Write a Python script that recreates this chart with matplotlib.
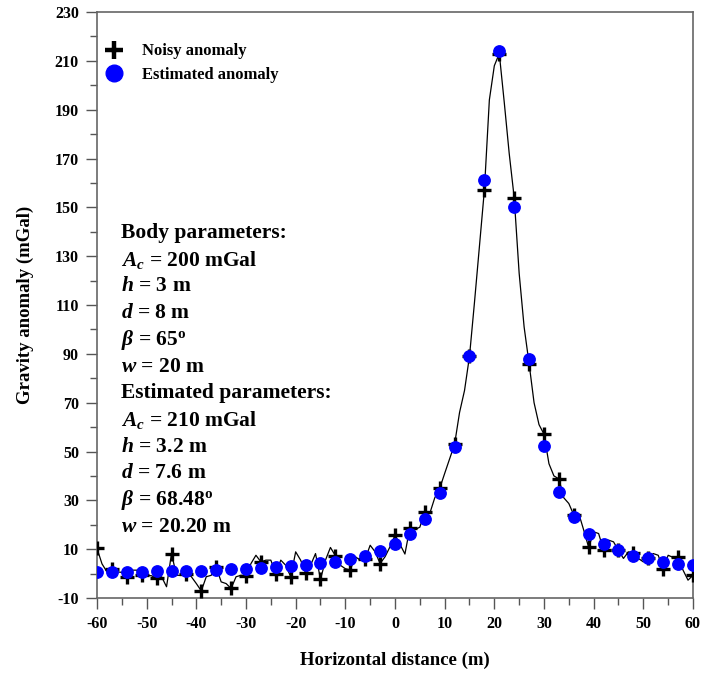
import numpy as np
import matplotlib
matplotlib.use("Agg")
import matplotlib.pyplot as plt
from matplotlib.ticker import MultipleLocator
from matplotlib.lines import Line2D

plt.rcParams['font.family'] = ['Liberation Serif', 'DejaVu Serif']
plt.rcParams['font.weight'] = 'bold'
plt.rcParams['axes.unicode_minus'] = False
plt.rcParams['mathtext.fontset'] = 'custom'
plt.rcParams['mathtext.rm'] = 'Liberation Serif:bold'
plt.rcParams['mathtext.it'] = 'Liberation Serif:italic:bold'
plt.rcParams['mathtext.bf'] = 'Liberation Serif:bold'

# ---------------- data ----------------
x_line = np.arange(-60, 61, 1)        # noisy profile, 1 m sampling
noisy_line = [10.3, 4.0, 0.7, 2.0, 0.7, 0.5, -1.3, 1.4, 1.4, -0.7,
              -0.7, -0.9, -2.0, -1.3, -5.4, 8.2, -0.7, -0.7, 0.0, -1.3,
              -4.1, -7.1, -1.3, -0.7, 2.7, -3.4, -4.1, -6.1, -1.3, -0.7,
              -1.0, 4.1, 7.5, 4.8, 5.5, 5.5, 0.0, 5.5, 3.4, -1.3,
              8.9, 5.5, 0.3, 3.4, 8.2, -2.4, 5.5, 10.7, 7.3, 3.4,
              2.0, 1.5, 6.9, 5.5, 6.0, 11.6, 8.9, 4.1, 6.9, 11.0,
              15.7, 12.0, 8.0, 18.8, 18.0, 19.0, 25.2, 24.6, 31.0, 34.9,
              41.0, 47.0, 53.0, 66.0, 75.0, 89.0, 111.0, 134.0, 157.1, 194.0,
              208.0, 213.0, 193.0, 172.0, 154.0, 123.0, 101.0, 86.0, 70.0, 61.0,
              57.1, 45.0, 40.0, 38.8, 31.0, 28.7, 24.0, 24.6, 17.8, 10.7,
              17.1, 16.4, 9.6, 13.7, 13.0, 9.5, 6.2, 8.9, 8.5, 6.2,
              4.8, 6.5, 8.2, 7.5, 1.8, 7.5, 6.6, 6.6, 1.4, -2.7,
              -0.7]

x_pts = np.arange(-60, 61, 3)         # marker stations, 3 m spacing
noisy_pts = [10.3, 2.0, -1.3, -0.7, -2.0, 8.2, 0.0, -7.1, 2.7, -6.1,
             -1.0, 4.8, 0.0, -1.3, 0.3, -2.4, 7.3, 1.5, 6.0, 4.1,
             15.7, 18.8, 25.2, 34.9, 53.0, 89.0, 157.1, 213.0, 154.0, 86.0,
             57.1, 38.8, 24.0, 10.7, 9.6, 9.5, 8.5, 6.5, 1.8, 6.6,
             -0.7]
estimated_pts = [0.5, 0.6, 0.7, 0.8, 0.9, 1.0, 1.1, 1.2, 1.5, 1.7,
                 1.9, 2.2, 2.5, 2.9, 3.4, 4.2, 4.9, 5.9, 7.3, 9.3,
                 12.0, 16.1, 22.4, 32.8, 51.8, 89.2, 161.0, 214.0, 150.3, 87.7,
                 52.3, 33.5, 23.0, 16.4, 12.3, 9.6, 7.4, 6.2, 4.8, 4.1,
                 3.4]

param_lines = ["Body parameters:",
               r"$A_c$ = 200 mGal",
               r"$h$ = 3 m",
               r"$d$ = 8 m",
               r"$\beta$ = 65$^{\mathrm{o}}$",
               r"$w$ = 20 m",
               "Estimated parameters:",
               r"$A_c$ = 210 mGal",
               r"$h$ = 3.2 m",
               r"$d$ = 7.6 m",
               r"$\beta$ = 68.48$^{\mathrm{o}}$",
               r"$w$ = 20.20 m"]

# ---------------- plot ----------------
fig = plt.figure(figsize=(7.17, 6.76), dpi=100)
ax = fig.add_axes([0.1353, 0.1154, 0.8312, 0.8668])

ax.plot(x_line, noisy_line, color="black", linewidth=0.9, zorder=2)
ax.plot(x_pts, noisy_pts, linestyle="none", marker="+", color="black",
        markersize=10, markeredgewidth=2.4, zorder=3)
ax.plot(x_pts, estimated_pts, linestyle="none", marker="o", color="#0000ff",
        markeredgecolor="#0000ff", markersize=8.2, zorder=4)

ax.set_xlim(-60, 60)
ax.set_ylim(-10, 230)
ax.xaxis.set_major_locator(MultipleLocator(10))
ax.xaxis.set_minor_locator(MultipleLocator(5))
ax.set_yticks(np.arange(-10, 231, 20))
ax.yaxis.set_minor_locator(MultipleLocator(10))

ax.tick_params(which="both", direction="out", top=False, right=False,
               labelsize=11.5, color="#555555", width=1.0)
ax.tick_params(which="major", length=8, pad=5)
ax.tick_params(which="minor", length=5)
for lab in ax.get_xticklabels() + ax.get_yticklabels():
    lab.set_fontweight("bold")
for sp in ax.spines.values():
    sp.set_color("#666666")
    sp.set_linewidth(1.2)

ax.set_xlabel("Horizontal distance (m)", fontsize=13.5, fontweight="bold", labelpad=14)
ax.set_ylabel("Gravity anomaly (mGal)", fontsize=13.5, fontweight="bold", labelpad=15)

handles = [Line2D([], [], linestyle="none", marker="+", color="black",
                  markersize=13, markeredgewidth=3.2),
           Line2D([], [], linestyle="none", marker="o", color="#0000ff",
                  markersize=12)]
ax.legend(handles, ["Noisy anomaly", "Estimated anomaly"], loc="upper left",
          bbox_to_anchor=(-0.016, 0.972), frameon=False, handlelength=1.4,
          handletextpad=1.0, labelspacing=0.45, prop={"weight": "bold", "size": 12})

y0 = 233
for i, s in enumerate(param_lines):
    fig.text(121 / 717, 1 - (y0 + 26.7 * i) / 676, s, fontsize=15.5,
             fontweight="bold", ha="left", va="center")

fig.savefig("out.png", dpi=100)
